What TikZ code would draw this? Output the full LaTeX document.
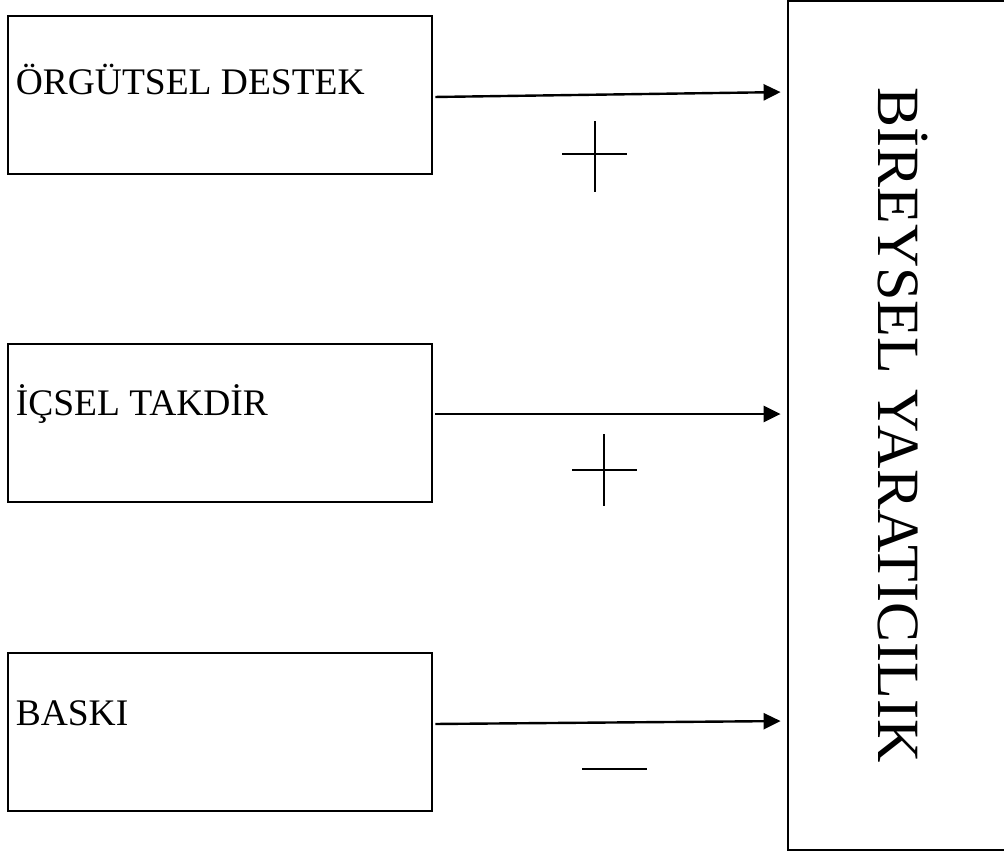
\documentclass[tikz,border=0pt]{standalone}
\usepackage{fontspec}
\setmainfont{Liberation Serif}
\usetikzlibrary{arrows.meta,calc}

\tikzset{
  factor/.style={draw,line width=2.8pt,minimum width=424pt,minimum height=158pt,inner sep=0pt},
  factortext/.style={anchor=base west,inner sep=0pt,font=\fontsize{37.5}{45}\selectfont},
  effect/.style={line width=2.4pt,-{Triangle[length=17pt,width=16pt]},shorten <=2pt,shorten >=6pt},
  sign/.style={line width=2pt}
}

\begin{document}
\begin{tikzpicture}[x=1pt,y=-1pt]
    \useasboundingbox[fill=white] (0,0) rectangle (1004,854);
    % factors on the left
    \node[factor] (org) at (220,95) {};
    \node[factor] (ict) at (220,423) {};
    \node[factor] (bsk) at (220,732) {};
    \node[factortext] (orgtxt) at ([xshift=9pt,yshift=1pt]org.west) {ÖRGÜTSEL DESTEK};
    \node[factortext] (icttxt) at ([xshift=9pt,yshift=8pt]ict.west) {İÇSEL TAKDİR};
    \node[factortext] (bsktxt) at ([xshift=9pt,yshift=7pt]bsk.west) {BASKI};
    % outcome
    \node[draw,line width=2.8pt,minimum width=220pt,minimum height=849pt,inner sep=0pt] (ybox) at (898,425.5) {};
    \node[rotate=-90,anchor=base,inner sep=0pt,font=\fontsize{60}{72}\selectfont] (ytxt) at (878,425) {BİREYSEL YARATICILIK};
    % effects
    \draw[effect] ($(org.east)+(0,2)$) -- ($(org.east -| ybox.west)+(0,-3)$);
    \draw[effect] ($(ict.east)+(0,-9)$) -- ($(ict.east -| ybox.west)+(0,-9)$);
    \draw[effect] ($(bsk.east)+(0,-8)$) -- ($(bsk.east -| ybox.west)+(0,-11)$);
    \draw[sign] (562,154) -- (627,154) (595,121) -- (595,192);
    \draw[sign] (572,470) -- (637,470) (604,434) -- (604,506);
    \draw[sign] (582,769) -- (647,769);
  \end{tikzpicture}
\end{document}
